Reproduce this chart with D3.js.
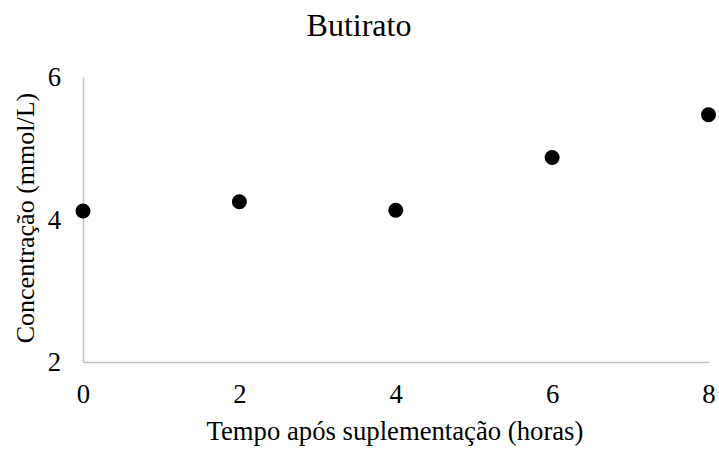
<!DOCTYPE html>
<html>
<head>
<meta charset="utf-8">
<script src="https://cdn.jsdelivr.net/npm/d3@7"></script>
<style>
  body { margin: 0; background: #fff; }
  text { font-family: "Liberation Serif", "Times New Roman", serif; fill: #000; }
</style>
</head>
<body>
<svg id="chart" width="719" height="449"></svg>
<script>
// chart values
const hours = [0, 2, 4, 6, 8];
const butirato = [4.12, 4.25, 4.13, 4.87, 5.47];
const xTicks = [0, 2, 4, 6, 8];
const yTicks = [2, 4, 6];

const width = 719, height = 449;
const margin = {top: 77, right: 10, bottom: 87, left: 83};

const svg = d3.select("#chart");
const g = svg.append("g")
    .attr("transform", "translate(" + margin.left + "," + margin.top + ")");

const w = width - margin.left - margin.right;
const h = height - margin.top - margin.bottom;

const x = d3.scaleLinear().domain([0, 8]).range([0, w - 0.5]);
const y = d3.scaleLinear().domain([2, 6]).range([h, 0]);

// axes: gray lines, no tick marks
const xAxis = g.append("g")
    .attr("transform", "translate(0," + h + ")")
    .call(d3.axisBottom(x).tickValues(xTicks).tickFormat(d3.format("d")).tickSize(0).tickPadding(22));
const yAxis = g.append("g")
    .call(d3.axisLeft(y).tickValues(yTicks).tickFormat(d3.format("d")).tickSize(0).tickPadding(22));

[xAxis, yAxis].forEach(a => {
    a.select(".domain").attr("stroke", "#bfbfbf").attr("stroke-width", 1.5);
    a.selectAll("text")
        .style("font-size", "26.7px")
        .style("font-family", '"Liberation Serif", serif');
});

// points
g.selectAll(".pt")
    .data(hours.map((d, i) => ({h: d, v: butirato[i]})))
    .enter()
    .append("circle")
    .attr("class", "pt")
    .attr("cx", d => x(d.h))
    .attr("cy", d => y(d.v))
    .attr("r", 7.5)
    .attr("fill", "#000");

// title
svg.append("text")
    .attr("x", 359)
    .attr("y", 36)
    .attr("text-anchor", "middle")
    .style("font-size", "32px")
    .text("Butirato");

// axis titles
svg.append("text")
    .attr("x", 395)
    .attr("y", 440)
    .attr("text-anchor", "middle")
    .style("font-size", "26.7px")
    .text("Tempo após suplementação (horas)");

svg.append("text")
    .attr("transform", "translate(34,218) rotate(-90)")
    .attr("text-anchor", "middle")
    .style("font-size", "26px")
    .text("Concentração (mmol/L)");
</script>
</body>
</html>
